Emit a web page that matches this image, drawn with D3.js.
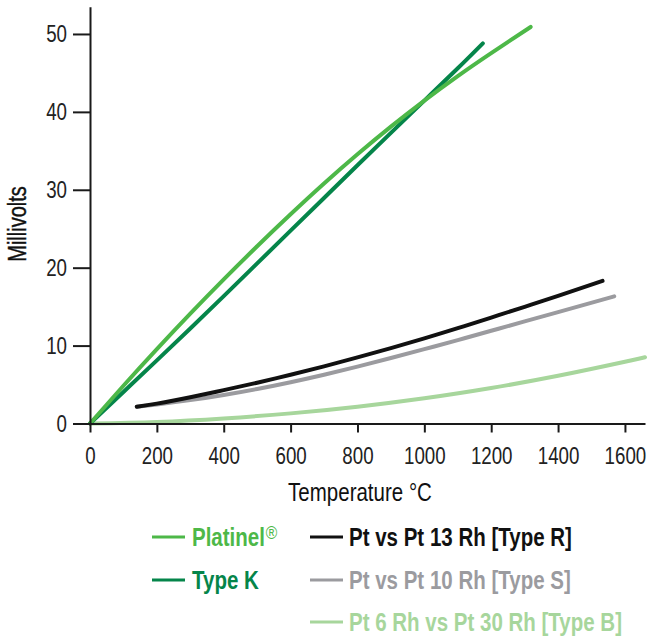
<!DOCTYPE html>
<html>
<head>
<meta charset="utf-8">
<script src="https://cdn.jsdelivr.net/npm/d3@7"></script>
<style>
  html, body { margin: 0; padding: 0; background: #fff; }
  svg { display: block; }
  text { font-family: "Liberation Sans", Arial, "Roboto", sans-serif; }
</style>
</head>
<body>
<svg id="chart" width="650" height="638"></svg>
<script>
// ---- data ----
const platinelT  = [0, 100, 200, 300, 400, 500, 600, 700, 800, 900, 1000, 1100, 1200, 1318];
const platinelMV = [0, 4.85, 9.55, 14.1, 18.5, 22.75, 26.85, 30.8, 34.55, 38.1, 41.45, 44.6, 47.55, 50.9];

const typeKT  = [0, 100, 200, 300, 400, 500, 600, 700, 800, 900, 1000, 1100, 1175];
const typeKMV = [0, 4.05, 8.1, 12.2, 16.35, 20.55, 24.75, 28.95, 33.15, 37.3, 41.45, 45.6, 48.8];

const typeRT  = [140, 200, 300, 400, 500, 600, 700, 800, 900, 1000, 1100, 1200, 1300, 1400, 1533];
const typeRMV = [2.16, 2.55, 3.38, 4.28, 5.24, 6.26, 7.34, 8.48, 9.68, 10.92, 12.24, 13.6, 14.98, 16.38, 18.3];

const typeST  = [140, 200, 300, 400, 500, 600, 700, 800, 900, 1000, 1100, 1200, 1300, 1400, 1568];
const typeSMV = [2.16, 2.45, 3.0, 3.66, 4.43, 5.3, 6.26, 7.3, 8.4, 9.54, 10.71, 11.9, 13.1, 14.3, 16.32];

const typeBT  = [0, 200, 400, 600, 800, 1000, 1200, 1400, 1600, 1660];
const typeBMV = [0, 0.2, 0.65, 1.3, 2.16, 3.24, 4.56, 6.12, 7.92, 8.5];

const xTicks = [0, 200, 400, 600, 800, 1000, 1200, 1400, 1600];
const yTicks = [0, 10, 20, 30, 40, 50];

const seriesNames  = ["Platinel", "Type K", "Pt vs Pt 13 Rh [Type R]", "Pt vs Pt 10 Rh [Type S]", "Pt 6 Rh vs Pt 30 Rh [Type B]"];
const seriesColors = ["#4db848", "#05854a", "#111111", "#9b9b9f", "#a7d69c"];

const xTitle = "Temperature °C";
const yTitle = "Millivolts";

// ---- build ----
const zip = (t, v) => t.map((d, i) => ({ t: d, v: v[i] }));
const series = [
  { name: seriesNames[0], color: seriesColors[0], pts: zip(platinelT, platinelMV) },
  { name: seriesNames[1], color: seriesColors[1], pts: zip(typeKT, typeKMV) },
  { name: seriesNames[2], color: seriesColors[2], pts: zip(typeRT, typeRMV) },
  { name: seriesNames[3], color: seriesColors[3], pts: zip(typeST, typeSMV) },
  { name: seriesNames[4], color: seriesColors[4], pts: zip(typeBT, typeBMV) }
];

const svg = d3.select("#chart");
const x = d3.scaleLinear().domain([0, 1660]).range([90, 645]);
const y = d3.scaleLinear().domain([0, 53.5]).range([423.5, 6.7]);

const axisColor = "#1a1a1a";

// condense a text element horizontally (narrow typeface look)
function condense(sel, s) {
  sel.each(function () {
    const t = d3.select(this);
    const tx = +t.attr("x") || 0, ty = +t.attr("y") || 0;
    const prev = t.attr("transform") || "";
    t.attr("x", 0).attr("y", 0)
     .attr("transform", `${prev} translate(${tx},${ty}) scale(${s},1)`);
  });
}

// curves
const line = d3.line().x(d => x(d.t)).y(d => y(d.v)).curve(d3.curveNatural);
const drawOrder = [4, 3, 2, 1, 0];
svg.append("g").selectAll("path")
  .data(drawOrder.map(i => series[i]))
  .join("path")
  .attr("d", d => line(d.pts))
  .attr("fill", "none")
  .attr("stroke", d => d.color)
  .attr("stroke-width", 4)
  .attr("stroke-linecap", "round")
  .attr("stroke-linejoin", "round");

// x axis
const gx = svg.append("g")
  .attr("transform", `translate(0,${y(0)})`)
  .call(d3.axisBottom(x).tickValues(xTicks).tickFormat(d3.format("d")).tickSize(9).tickSizeOuter(0).tickPadding(14));
gx.select(".domain").attr("stroke", axisColor).attr("stroke-width", 2);
gx.selectAll(".tick line").attr("stroke", axisColor).attr("stroke-width", 2);

// y axis
const gy = svg.append("g")
  .attr("transform", `translate(${x(0)},0)`)
  .call(d3.axisLeft(y).tickValues(yTicks).tickFormat(d3.format("d")).tickSize(17).tickSizeOuter(0).tickPadding(6));
gy.select(".domain").attr("stroke", axisColor).attr("stroke-width", 2);
gy.selectAll(".tick line").attr("stroke", axisColor).attr("stroke-width", 2);

svg.selectAll("g").attr("font-family", null).attr("font-size", null);
svg.selectAll(".tick text").attr("fill", "#222").style("font-size", "24px");
condense(svg.selectAll(".tick text"), 0.78);

// axis titles
svg.append("text")
  .attr("x", 360).attr("y", 501)
  .attr("text-anchor", "middle")
  .attr("fill", "#111")
  .style("font-size", "25px")
  .text(xTitle)
  .call(condense, 0.82);

svg.append("text")
  .attr("transform", "translate(26,224) rotate(-90) scale(0.8,1)")
  .attr("text-anchor", "middle")
  .attr("fill", "#111")
  .attr("stroke", "#111")
  .attr("stroke-width", 0.4)
  .style("font-size", "25px")
  .text(yTitle);

// legend
const legendPos = [
  { lx: 152, tx: 192, cy: 537 },
  { lx: 152, tx: 192, cy: 580 },
  { lx: 310, tx: 349, cy: 537 },
  { lx: 310, tx: 349, cy: 580 },
  { lx: 310, tx: 349, cy: 622 }
];
const lg = svg.append("g");
series.forEach((s, i) => {
  const p = legendPos[i];
  lg.append("line")
    .attr("x1", p.lx).attr("x2", p.lx + 33)
    .attr("y1", p.cy).attr("y2", p.cy)
    .attr("stroke", s.color).attr("stroke-width", 3);
  const t = lg.append("text")
    .attr("x", p.tx).attr("y", p.cy + 9)
    .attr("fill", s.color)
    .style("font-size", "25px")
    .style("font-weight", "bold")
    .text(s.name);
  if (i === 0) {
    t.append("tspan").attr("dx", 1).attr("dy", -7).style("font-size", "19px").style("font-weight", "normal").text("®");
  }
  condense(t, 0.82);
});
</script>
</body>
</html>
